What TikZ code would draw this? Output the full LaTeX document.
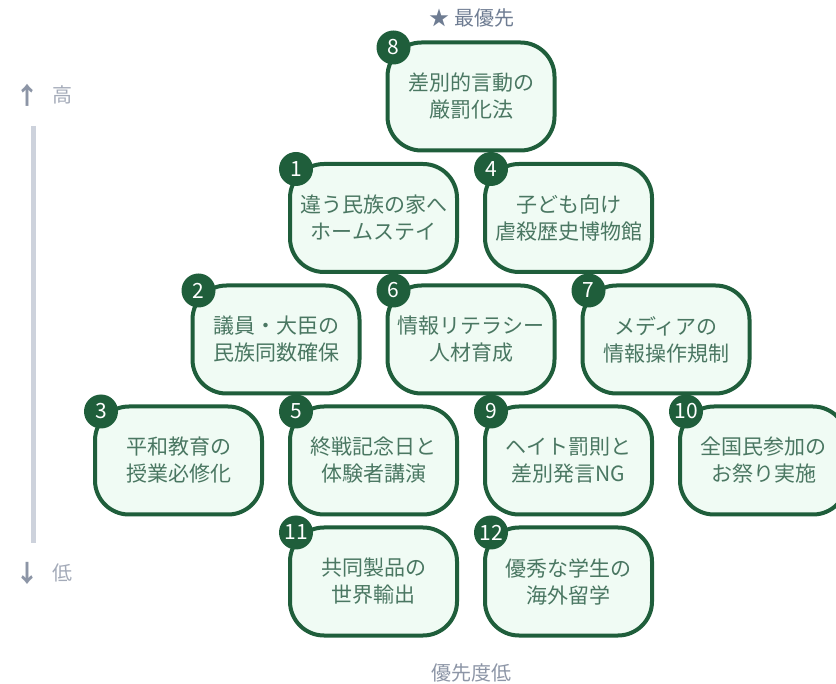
\documentclass[tikz,border=0pt]{standalone}
\usepackage{fontspec}
\newfontfamily\jp{Noto Sans CJK JP}
\definecolor{dgreen}{HTML}{1F5E3B}
\definecolor{mint}{HTML}{F0FBF4}
\definecolor{tgreen}{HTML}{4A7762}
\definecolor{axisgray}{HTML}{8C95A6}
\definecolor{lightgray}{HTML}{A3AAB8}
\definecolor{bargray}{HTML}{CDD2DC}
\definecolor{topgray}{HTML}{6E7C92}
\tikzset{
  pbox/.style={draw=dgreen, line width=4pt, fill=mint, rounded corners=34pt,
    minimum width=167pt, minimum height=108pt, inner sep=0pt, align=center,
    text=tgreen, font=\jp\fontsize{21}{27}\selectfont},
  pnum/.style={circle, fill=dgreen, minimum size=34pt, inner sep=0pt,
    text=white, font=\jp\fontsize{21}{21}\selectfont},
  axislabel/.style={text=lightgray, font=\jp\fontsize{20}{20}\selectfont, inner sep=0pt},
  axisarrow/.style={text=axisgray, font=\jp\bfseries\fontsize{24}{24}\selectfont, inner sep=0pt},
}
\newcommand{\pitem}[5]{% name, x, y, number, text
  \node[pbox] (#1) at (#2,#3) {#5};
  \node[pnum] (#1n) at ([xshift=8pt,yshift=-7pt]#1.north west) {#4};
}
\begin{document}
\begin{tikzpicture}[x=1pt,y=-1pt]
\useasboundingbox (0,0) rectangle (836,684);
\clip (0,0) rectangle (836,684);
% top / bottom labels
\node[inner sep=0pt, font=\jp\fontsize{20}{20}\selectfont, text=topgray] (top) at (472,18) {★ 最優先};
\node[inner sep=0pt, font=\jp\fontsize{20}{20}\selectfont, text=axisgray] (bottom) at (471,673) {優先度低};
% axis
\node[axisarrow] (upar) at (28,95) {↑};
\node[axislabel] (hi) at (62,95) {高};
\node[axisarrow] (dnar) at (28,573) {↓};
\node[axislabel] (lo) at (62,573) {低};
\coordinate (bartop) at (33.5,126);
\coordinate (barbot) at (33.5,543);
\draw[bargray, line width=5pt] (bartop) -- (barbot);
% boxes
\pitem{b8}{471}{96.5}{8}{差別的言動の\\厳罰化法}
\pitem{b1}{373.5}{218}{1}{違う民族の家へ\\ホームステイ}
\pitem{b4}{568.5}{218}{4}{子ども向け\\虐殺歴史博物館}
\pitem{b2}{276}{339.5}{2}{議員・大臣の\\民族同数確保}
\pitem{b6}{471}{339.5}{6}{情報リテラシー\\人材育成}
\pitem{b7}{666}{339.5}{7}{メディアの\\情報操作規制}
\pitem{b3}{178.5}{460.5}{3}{平和教育の\\授業必修化}
\pitem{b5}{373.5}{460.5}{5}{終戦記念日と\\体験者講演}
\pitem{b9}{568.5}{460.5}{9}{ヘイト罰則と\\差別発言NG}
\pitem{b10}{763.5}{460.5}{10}{全国民参加の\\お祭り実施}
\pitem{b11}{373.5}{581.5}{11}{共同製品の\\世界輸出}
\pitem{b12}{568.5}{581.5}{12}{優秀な学生の\\海外留学}
\end{tikzpicture}
\end{document}
